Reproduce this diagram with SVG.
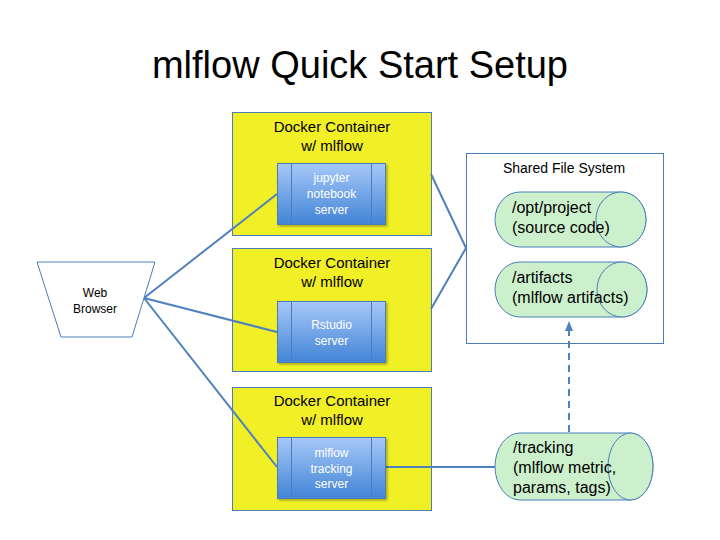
<svg xmlns="http://www.w3.org/2000/svg" width="720" height="540" viewBox="0 0 720 540">
<defs>
<linearGradient id="blueGrad" x1="0" y1="0" x2="0" y2="1">
<stop offset="0" stop-color="#a6c8f8"/>
<stop offset="1" stop-color="#4284d6"/>
</linearGradient>
<marker id="arrow" markerWidth="10" markerHeight="10" refX="5" refY="5" orient="auto" markerUnits="userSpaceOnUse">
<path d="M0,1 L10,5 L0,9 Z" fill="#4f81bd"/>
</marker>
<filter id="shadow" x="-5%" y="-5%" width="115%" height="115%">
<feDropShadow dx="1.5" dy="1.5" stdDeviation="1.2" flood-color="#000" flood-opacity="0.3"/>
</filter>
</defs>
<style>
text { font-family: "Liberation Sans", Arial, sans-serif; }
.title { font-size: 38px; fill: #000; text-anchor: middle; }
.container { fill: #f1ef26; stroke: #4a7ebb; stroke-width: 1; }
.ctext { font-size: 15px; fill: #000; text-anchor: middle; }
.server { fill: url(#blueGrad); stroke: #4a7ebb; stroke-width: 1; filter: url(#shadow); }
.sline { stroke: #4a7ebb; stroke-width: 1; }
.stext { font-size: 12px; fill: #fff; text-anchor: middle; }
.browser { fill: #fff; stroke: #4a7ebb; stroke-width: 1; }
.btext { font-size: 12px; fill: #000; text-anchor: middle; }
.fs { fill: #fff; stroke: #4a7ebb; stroke-width: 1; }
.fstext { font-size: 14px; fill: #000; text-anchor: middle; }
.cyl { fill: #ccf0cc; stroke: #4a7ebb; stroke-width: 1; }
.cyltext { font-size: 16px; fill: #000; }
.conn { fill: none; stroke: #4f81bd; stroke-width: 2; }
.dash { fill: none; stroke: #4f81bd; stroke-width: 2; stroke-dasharray: 7 5; }
</style>
<rect width="720" height="540" fill="#fff"/>
<text class="title" x="360" y="78">mlflow Quick Start Setup</text>

<g id="container-jupyter">
<rect class="container" x="232.5" y="112.5" width="199" height="123"/>
<text class="ctext" x="332" y="132">Docker Container</text>
<text class="ctext" x="332" y="151">w/ mlflow</text>
</g>
<g id="container-rstudio">
<rect class="container" x="232.5" y="248.5" width="199" height="123"/>
<text class="ctext" x="332" y="268">Docker Container</text>
<text class="ctext" x="332" y="287">w/ mlflow</text>
</g>
<g id="container-tracking">
<rect class="container" x="232.5" y="387.5" width="199" height="123"/>
<text class="ctext" x="332" y="406">Docker Container</text>
<text class="ctext" x="332" y="425">w/ mlflow</text>
</g>

<g id="shared-fs">
<rect class="fs" x="466.5" y="153.5" width="197" height="190"/>
<text class="fstext" x="564" y="173">Shared File System</text>
</g>

<g id="connectors">
<line class="conn" x1="144" y1="298" x2="277" y2="194"/>
<line class="conn" x1="144" y1="298" x2="277" y2="332"/>
<line class="conn" x1="144" y1="298" x2="277" y2="467"/>
<polyline class="conn" points="431,174 466,248 431,309"/>
<line class="conn" x1="386" y1="467" x2="495" y2="467"/>
<line class="dash" x1="569" y1="432" x2="569" y2="326" marker-end="url(#arrow)"/>
</g>

<g id="jupyter">
<rect class="server" x="277.5" y="163.5" width="108" height="61"/>
<line class="sline" x1="291.5" y1="164" x2="291.5" y2="224"/>
<line class="sline" x1="371.5" y1="164" x2="371.5" y2="224"/>
<text class="stext" x="331.5" y="182">jupyter</text>
<text class="stext" x="331.5" y="198">notebook</text>
<text class="stext" x="331.5" y="214">server</text>
</g>
<g id="rstudio">
<rect class="server" x="277.5" y="301.5" width="108" height="61"/>
<line class="sline" x1="291.5" y1="302" x2="291.5" y2="362"/>
<line class="sline" x1="371.5" y1="302" x2="371.5" y2="362"/>
<text class="stext" x="331.5" y="329">Rstudio</text>
<text class="stext" x="331.5" y="345">server</text>
</g>
<g id="tracking-server">
<rect class="server" x="277.5" y="437.5" width="108" height="61"/>
<line class="sline" x1="291.5" y1="438" x2="291.5" y2="498"/>
<line class="sline" x1="371.5" y1="438" x2="371.5" y2="498"/>
<text class="stext" x="331.5" y="457">mlflow</text>
<text class="stext" x="331.5" y="473">tracking</text>
<text class="stext" x="331.5" y="488">server</text>
</g>

<g id="web-browser">
<polygon class="browser" points="37,262 155,262 132,337 61,337"/>
<text class="btext" x="95" y="297">Web</text>
<text class="btext" x="95" y="313">Browser</text>
</g>

<g id="opt-project">
<path class="cyl" d="M520,192 H621 A25,27.5 0 0 1 621,247 H520 A25,27.5 0 0 1 520,192 Z"/>
<ellipse class="cyl" cx="621" cy="219.5" rx="25" ry="27.5"/>
<text class="cyltext" x="512" y="213">/opt/project</text>
<text class="cyltext" x="512" y="233">(source code)</text>
</g>
<g id="artifacts">
<path class="cyl" d="M520,262 H622 A25,27.5 0 0 1 622,317 H520 A25,27.5 0 0 1 520,262 Z"/>
<ellipse class="cyl" cx="622" cy="289.5" rx="25" ry="27.5"/>
<text class="cyltext" x="512" y="283">/artifacts</text>
<text class="cyltext" x="512" y="303">(mlflow artifacts)</text>
</g>
<g id="tracking">
<path class="cyl" d="M520,433 H630.5 A22.5,33.5 0 0 1 630.5,500 H520 A25,33.5 0 0 1 520,433 Z"/>
<ellipse class="cyl" cx="630.5" cy="466.5" rx="22.5" ry="33.5"/>
<text class="cyltext" x="513" y="453">/tracking</text>
<text class="cyltext" x="513" y="473">(mlflow metric,</text>
<text class="cyltext" x="513" y="493">params, tags)</text>
</g>
</svg>
